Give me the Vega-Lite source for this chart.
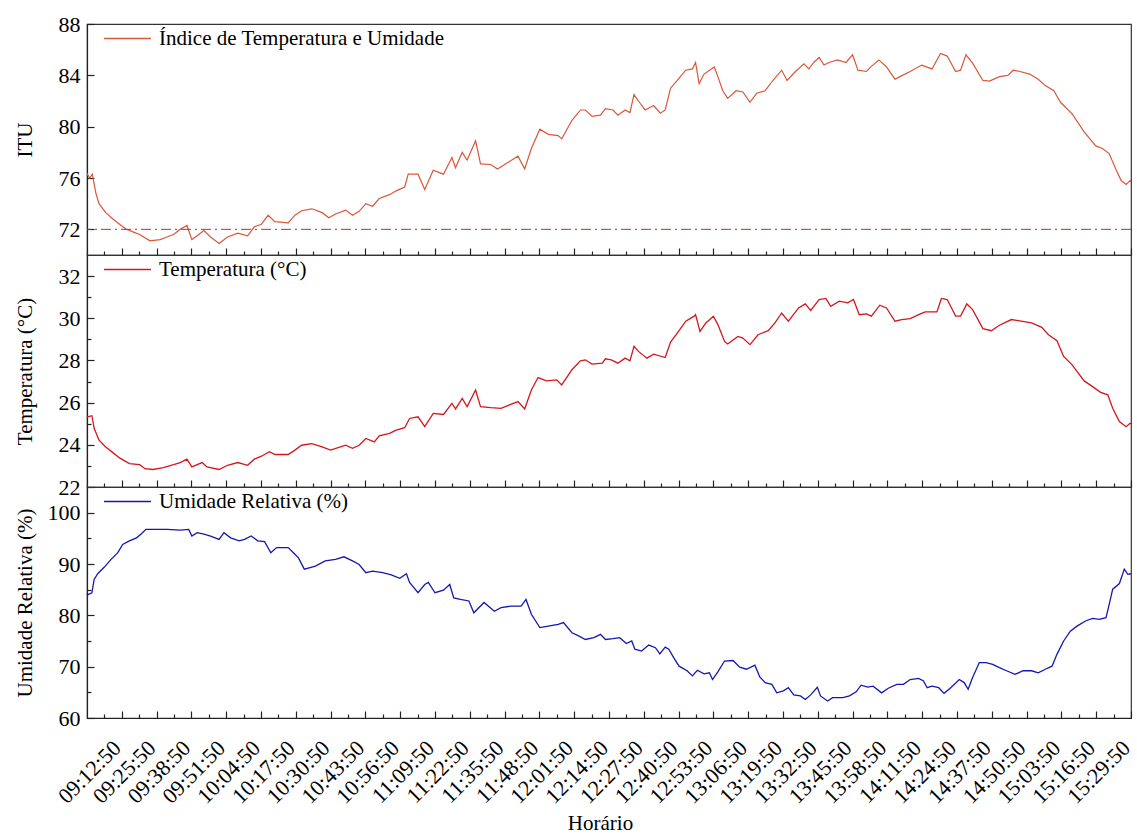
{
  "$schema": "https://vega.github.io/schema/vega-lite/v6.json",
  "autosize": "none",
  "padding": {"left": 87, "top": 24, "right": 1050, "bottom": 812},
  "background": "white",
  "params": [
    {"name": "xticks", "expr": "[datetime(1900,0,1,9,6,20),datetime(1900,0,1,9,12,50),datetime(1900,0,1,9,19,20),datetime(1900,0,1,9,25,50),datetime(1900,0,1,9,32,20),datetime(1900,0,1,9,38,50),datetime(1900,0,1,9,45,20),datetime(1900,0,1,9,51,50),datetime(1900,0,1,9,58,20),datetime(1900,0,1,10,4,50),datetime(1900,0,1,10,11,20),datetime(1900,0,1,10,17,50),datetime(1900,0,1,10,24,20),datetime(1900,0,1,10,30,50),datetime(1900,0,1,10,37,20),datetime(1900,0,1,10,43,50),datetime(1900,0,1,10,50,20),datetime(1900,0,1,10,56,50),datetime(1900,0,1,11,3,20),datetime(1900,0,1,11,9,50),datetime(1900,0,1,11,16,20),datetime(1900,0,1,11,22,50),datetime(1900,0,1,11,29,20),datetime(1900,0,1,11,35,50),datetime(1900,0,1,11,42,20),datetime(1900,0,1,11,48,50),datetime(1900,0,1,11,55,20),datetime(1900,0,1,12,1,50),datetime(1900,0,1,12,8,20),datetime(1900,0,1,12,14,50),datetime(1900,0,1,12,21,20),datetime(1900,0,1,12,27,50),datetime(1900,0,1,12,34,20),datetime(1900,0,1,12,40,50),datetime(1900,0,1,12,47,20),datetime(1900,0,1,12,53,50),datetime(1900,0,1,13,0,20),datetime(1900,0,1,13,6,50),datetime(1900,0,1,13,13,20),datetime(1900,0,1,13,19,50),datetime(1900,0,1,13,26,20),datetime(1900,0,1,13,32,50),datetime(1900,0,1,13,39,20),datetime(1900,0,1,13,45,50),datetime(1900,0,1,13,52,20),datetime(1900,0,1,13,58,50),datetime(1900,0,1,14,5,20),datetime(1900,0,1,14,11,50),datetime(1900,0,1,14,18,20),datetime(1900,0,1,14,24,50),datetime(1900,0,1,14,31,20),datetime(1900,0,1,14,37,50),datetime(1900,0,1,14,44,20),datetime(1900,0,1,14,50,50),datetime(1900,0,1,14,57,20),datetime(1900,0,1,15,3,50),datetime(1900,0,1,15,10,20),datetime(1900,0,1,15,16,50),datetime(1900,0,1,15,23,20),datetime(1900,0,1,15,29,50)]"}
  ],
  "datasets": {
    "itu": [
      {"t":"08:59:50","itu":76.2},{"t":"09:00:00","itu":76.3},{"t":"09:00:50","itu":76.0},{"t":"09:01:50","itu":76.3},{"t":"09:03:10","itu":74.8},{"t":"09:04:20","itu":74.0},{"t":"09:06:50","itu":73.3},{"t":"09:09:30","itu":72.8},{"t":"09:12:00","itu":72.4},{"t":"09:14:30","itu":72.0},{"t":"09:17:00","itu":71.8},{"t":"09:19:30","itu":71.6},{"t":"09:23:20","itu":71.1},{"t":"09:27:10","itu":71.2},{"t":"09:29:40","itu":71.4},{"t":"09:32:10","itu":71.6},{"t":"09:34:40","itu":72.0},{"t":"09:37:10","itu":72.3},{"t":"09:39:00","itu":71.2},{"t":"09:41:00","itu":71.5},{"t":"09:43:30","itu":71.9},{"t":"09:46:00","itu":71.4},{"t":"09:49:10","itu":70.9},{"t":"09:52:20","itu":71.4},{"t":"09:56:10","itu":71.7},{"t":"09:59:50","itu":71.5},{"t":"10:02:20","itu":72.2},{"t":"10:05:00","itu":72.4},{"t":"10:07:30","itu":73.1},{"t":"10:10:00","itu":72.6},{"t":"10:15:00","itu":72.5},{"t":"10:17:30","itu":73.1},{"t":"10:20:00","itu":73.45},{"t":"10:23:50","itu":73.6},{"t":"10:27:40","itu":73.3},{"t":"10:30:10","itu":72.9},{"t":"10:32:40","itu":73.2},{"t":"10:36:30","itu":73.5},{"t":"10:39:00","itu":73.1},{"t":"10:41:30","itu":73.4},{"t":"10:44:00","itu":74.0},{"t":"10:46:30","itu":73.8},{"t":"10:49:00","itu":74.4},{"t":"10:52:50","itu":74.7},{"t":"10:55:20","itu":75.0},{"t":"10:58:30","itu":75.3},{"t":"10:59:50","itu":76.3},{"t":"11:03:30","itu":76.3},{"t":"11:06:00","itu":75.1},{"t":"11:09:10","itu":76.6},{"t":"11:13:00","itu":76.3},{"t":"11:16:10","itu":77.6},{"t":"11:17:30","itu":76.8},{"t":"11:20:00","itu":78.0},{"t":"11:21:50","itu":77.4},{"t":"11:25:00","itu":78.9},{"t":"11:26:50","itu":77.1},{"t":"11:30:40","itu":77.05},{"t":"11:33:10","itu":76.7},{"t":"11:37:00","itu":77.2},{"t":"11:40:50","itu":77.7},{"t":"11:43:20","itu":76.7},{"t":"11:45:50","itu":78.3},{"t":"11:49:00","itu":79.8},{"t":"11:52:10","itu":79.4},{"t":"11:55:50","itu":79.3},{"t":"11:57:10","itu":79.05},{"t":"12:01:00","itu":80.5},{"t":"12:04:10","itu":81.3},{"t":"12:06:00","itu":81.3},{"t":"12:08:30","itu":80.8},{"t":"12:11:40","itu":80.9},{"t":"12:13:30","itu":81.4},{"t":"12:16:20","itu":81.3},{"t":"12:18:10","itu":80.9},{"t":"12:20:50","itu":81.3},{"t":"12:22:40","itu":81.1},{"t":"12:24:10","itu":82.5},{"t":"12:25:50","itu":82.0},{"t":"12:28:20","itu":81.3},{"t":"12:31:30","itu":81.65},{"t":"12:34:00","itu":81.05},{"t":"12:35:50","itu":81.3},{"t":"12:37:50","itu":83.0},{"t":"12:40:20","itu":83.6},{"t":"12:43:30","itu":84.4},{"t":"12:46:00","itu":84.5},{"t":"12:47:10","itu":85.0},{"t":"12:48:30","itu":83.35},{"t":"12:50:20","itu":84.1},{"t":"12:54:10","itu":84.65},{"t":"12:55:30","itu":83.9},{"t":"12:57:20","itu":82.8},{"t":"12:59:10","itu":82.2},{"t":"13:02:20","itu":82.8},{"t":"13:04:50","itu":82.7},{"t":"13:07:30","itu":81.9},{"t":"13:10:00","itu":82.6},{"t":"13:13:10","itu":82.8},{"t":"13:15:40","itu":83.5},{"t":"13:19:20","itu":84.4},{"t":"13:21:20","itu":83.6},{"t":"13:24:30","itu":84.3},{"t":"13:27:40","itu":84.9},{"t":"13:29:30","itu":84.5},{"t":"13:31:20","itu":85.0},{"t":"13:33:20","itu":85.4},{"t":"13:35:10","itu":84.8},{"t":"13:37:00","itu":85.0},{"t":"13:40:10","itu":85.2},{"t":"13:43:20","itu":85.0},{"t":"13:45:50","itu":85.6},{"t":"13:47:50","itu":84.4},{"t":"13:51:00","itu":84.3},{"t":"13:52:50","itu":84.7},{"t":"13:55:40","itu":85.2},{"t":"13:58:30","itu":84.65},{"t":"14:01:40","itu":83.7},{"t":"14:03:30","itu":83.9},{"t":"14:07:20","itu":84.3},{"t":"14:11:40","itu":84.8},{"t":"14:15:30","itu":84.5},{"t":"14:18:40","itu":85.7},{"t":"14:21:10","itu":85.5},{"t":"14:24:20","itu":84.3},{"t":"14:26:10","itu":84.4},{"t":"14:28:10","itu":85.6},{"t":"14:30:40","itu":84.95},{"t":"14:34:30","itu":83.6},{"t":"14:37:00","itu":83.55},{"t":"14:40:40","itu":83.9},{"t":"14:43:50","itu":84.0},{"t":"14:45:50","itu":84.4},{"t":"14:48:20","itu":84.3},{"t":"14:52:00","itu":84.1},{"t":"14:55:10","itu":83.7},{"t":"14:57:50","itu":83.2},{"t":"15:01:00","itu":82.8},{"t":"15:03:30","itu":81.9},{"t":"15:07:50","itu":81.0},{"t":"15:12:20","itu":79.6},{"t":"15:16:40","itu":78.5},{"t":"15:19:10","itu":78.3},{"t":"15:21:40","itu":77.9},{"t":"15:24:20","itu":76.6},{"t":"15:26:10","itu":75.8},{"t":"15:28:00","itu":75.5},{"t":"15:29:30","itu":75.8},{"t":"15:29:50","itu":75.7}
    ],
    "temp": [
      {"t":"08:59:50","temp":25.3},{"t":"09:00:00","temp":25.33},{"t":"09:01:40","temp":25.38},{"t":"09:02:30","temp":24.78},{"t":"09:04:20","temp":24.22},{"t":"09:06:50","temp":23.9},{"t":"09:09:30","temp":23.63},{"t":"09:12:00","temp":23.38},{"t":"09:15:40","temp":23.11},{"t":"09:19:30","temp":23.06},{"t":"09:21:30","temp":22.87},{"t":"09:24:30","temp":22.83},{"t":"09:28:20","temp":22.92},{"t":"09:32:10","temp":23.06},{"t":"09:34:40","temp":23.16},{"t":"09:37:10","temp":23.32},{"t":"09:39:00","temp":22.95},{"t":"09:42:50","temp":23.16},{"t":"09:44:40","temp":22.95},{"t":"09:49:10","temp":22.83},{"t":"09:52:20","temp":23.03},{"t":"09:56:10","temp":23.16},{"t":"09:59:50","temp":23.03},{"t":"10:02:20","temp":23.32},{"t":"10:05:00","temp":23.46},{"t":"10:08:00","temp":23.67},{"t":"10:10:00","temp":23.54},{"t":"10:15:00","temp":23.54},{"t":"10:17:30","temp":23.75},{"t":"10:20:00","temp":23.98},{"t":"10:23:50","temp":24.06},{"t":"10:27:40","temp":23.9},{"t":"10:30:50","temp":23.75},{"t":"10:33:20","temp":23.86},{"t":"10:36:30","temp":23.98},{"t":"10:39:00","temp":23.83},{"t":"10:41:30","temp":23.98},{"t":"10:44:00","temp":24.3},{"t":"10:47:10","temp":24.14},{"t":"10:49:00","temp":24.43},{"t":"10:52:50","temp":24.54},{"t":"10:55:20","temp":24.7},{"t":"10:58:30","temp":24.81},{"t":"11:00:20","temp":25.25},{"t":"11:03:30","temp":25.33},{"t":"11:06:00","temp":24.86},{"t":"11:09:10","temp":25.49},{"t":"11:13:00","temp":25.44},{"t":"11:16:10","temp":25.97},{"t":"11:17:30","temp":25.7},{"t":"11:20:00","temp":26.2},{"t":"11:21:50","temp":25.81},{"t":"11:25:00","temp":26.6},{"t":"11:26:50","temp":25.81},{"t":"11:30:40","temp":25.76},{"t":"11:34:30","temp":25.73},{"t":"11:37:40","temp":25.89},{"t":"11:40:50","temp":26.05},{"t":"11:43:20","temp":25.7},{"t":"11:45:50","temp":26.6},{"t":"11:48:20","temp":27.19},{"t":"11:51:30","temp":27.03},{"t":"11:55:20","temp":27.08},{"t":"11:57:10","temp":26.84},{"t":"12:01:00","temp":27.56},{"t":"12:04:10","temp":27.98},{"t":"12:06:00","temp":28.03},{"t":"12:08:30","temp":27.83},{"t":"12:12:20","temp":27.87},{"t":"12:13:30","temp":28.08},{"t":"12:15:40","temp":28.03},{"t":"12:18:10","temp":27.87},{"t":"12:20:50","temp":28.11},{"t":"12:22:40","temp":27.98},{"t":"12:24:10","temp":28.67},{"t":"12:25:50","temp":28.43},{"t":"12:29:00","temp":28.11},{"t":"12:31:30","temp":28.3},{"t":"12:35:50","temp":28.14},{"t":"12:37:50","temp":28.87},{"t":"12:40:20","temp":29.3},{"t":"12:43:30","temp":29.86},{"t":"12:46:40","temp":30.1},{"t":"12:47:10","temp":30.17},{"t":"12:48:50","temp":29.38},{"t":"12:51:00","temp":29.78},{"t":"12:53:50","temp":30.1},{"t":"12:55:30","temp":29.7},{"t":"12:58:00","temp":28.9},{"t":"12:59:10","temp":28.78},{"t":"13:03:00","temp":29.14},{"t":"13:04:50","temp":29.06},{"t":"13:07:30","temp":28.75},{"t":"13:10:30","temp":29.22},{"t":"13:14:20","temp":29.41},{"t":"13:16:50","temp":29.78},{"t":"13:19:20","temp":30.25},{"t":"13:21:50","temp":29.86},{"t":"13:25:40","temp":30.49},{"t":"13:28:10","temp":30.68},{"t":"13:30:10","temp":30.37},{"t":"13:33:20","temp":30.89},{"t":"13:35:50","temp":30.94},{"t":"13:37:40","temp":30.57},{"t":"13:40:50","temp":30.81},{"t":"13:44:00","temp":30.73},{"t":"13:46:10","temp":30.89},{"t":"13:48:20","temp":30.17},{"t":"13:51:00","temp":30.21},{"t":"13:52:50","temp":30.1},{"t":"13:56:00","temp":30.62},{"t":"13:58:30","temp":30.49},{"t":"14:01:40","temp":29.86},{"t":"14:04:10","temp":29.94},{"t":"14:07:20","temp":29.98},{"t":"14:11:10","temp":30.21},{"t":"14:13:00","temp":30.3},{"t":"14:17:20","temp":30.3},{"t":"14:19:00","temp":30.94},{"t":"14:21:10","temp":30.89},{"t":"14:24:20","temp":30.1},{"t":"14:26:10","temp":30.1},{"t":"14:28:30","temp":30.68},{"t":"14:30:40","temp":30.41},{"t":"14:34:30","temp":29.51},{"t":"14:37:40","temp":29.41},{"t":"14:40:40","temp":29.67},{"t":"14:45:10","temp":29.94},{"t":"14:47:40","temp":29.89},{"t":"14:52:40","temp":29.78},{"t":"14:56:30","temp":29.57},{"t":"14:59:00","temp":29.22},{"t":"15:02:10","temp":28.94},{"t":"15:04:40","temp":28.19},{"t":"15:07:50","temp":27.79},{"t":"15:12:20","temp":27.03},{"t":"15:15:30","temp":26.76},{"t":"15:18:30","temp":26.49},{"t":"15:21:10","temp":26.37},{"t":"15:23:00","temp":25.73},{"t":"15:25:30","temp":25.1},{"t":"15:28:00","temp":24.86},{"t":"15:29:30","temp":25.02},{"t":"15:29:50","temp":25.0}
    ],
    "ur": [
      {"t":"08:59:50","ur":84.2},{"t":"09:00:00","ur":84.0},{"t":"09:01:40","ur":84.4},{"t":"09:02:30","ur":87.0},{"t":"09:03:50","ur":88.1},{"t":"09:06:20","ur":89.4},{"t":"09:08:50","ur":90.9},{"t":"09:11:20","ur":92.2},{"t":"09:13:10","ur":93.8},{"t":"09:15:40","ur":94.5},{"t":"09:18:20","ur":95.1},{"t":"09:20:10","ur":95.9},{"t":"09:21:50","ur":96.75},{"t":"09:24:30","ur":96.75},{"t":"09:29:40","ur":96.75},{"t":"09:34:40","ur":96.6},{"t":"09:37:50","ur":96.75},{"t":"09:39:00","ur":95.45},{"t":"09:41:00","ur":96.1},{"t":"09:43:30","ur":95.8},{"t":"09:46:00","ur":95.45},{"t":"09:49:10","ur":94.8},{"t":"09:51:00","ur":96.1},{"t":"09:53:30","ur":95.1},{"t":"09:56:40","ur":94.5},{"t":"09:58:40","ur":94.8},{"t":"10:01:10","ur":95.45},{"t":"10:03:40","ur":94.5},{"t":"10:06:10","ur":94.35},{"t":"10:08:30","ur":92.2},{"t":"10:10:40","ur":93.2},{"t":"10:15:00","ur":93.2},{"t":"10:17:30","ur":91.9},{"t":"10:18:50","ur":91.2},{"t":"10:21:00","ur":89.0},{"t":"10:23:10","ur":89.3},{"t":"10:25:10","ur":89.6},{"t":"10:28:50","ur":90.6},{"t":"10:32:40","ur":90.9},{"t":"10:35:50","ur":91.4},{"t":"10:39:00","ur":90.6},{"t":"10:41:30","ur":89.9},{"t":"10:44:00","ur":88.3},{"t":"10:46:30","ur":88.6},{"t":"10:50:20","ur":88.3},{"t":"10:53:30","ur":87.9},{"t":"10:56:40","ur":87.2},{"t":"10:59:10","ur":88.1},{"t":"11:00:20","ur":86.4},{"t":"11:03:30","ur":84.4},{"t":"11:06:00","ur":86.0},{"t":"11:07:20","ur":86.4},{"t":"11:09:50","ur":84.4},{"t":"11:13:00","ur":84.9},{"t":"11:15:20","ur":86.0},{"t":"11:16:50","ur":83.4},{"t":"11:19:20","ur":83.1},{"t":"11:22:30","ur":82.8},{"t":"11:24:20","ur":80.5},{"t":"11:28:10","ur":82.5},{"t":"11:32:00","ur":80.8},{"t":"11:34:30","ur":81.5},{"t":"11:38:10","ur":81.8},{"t":"11:42:00","ur":81.8},{"t":"11:43:50","ur":83.1},{"t":"11:45:50","ur":80.2},{"t":"11:49:00","ur":77.6},{"t":"11:52:10","ur":77.9},{"t":"11:55:50","ur":78.25},{"t":"11:57:50","ur":78.6},{"t":"12:01:00","ur":76.6},{"t":"12:03:30","ur":76.0},{"t":"12:06:00","ur":75.3},{"t":"12:09:10","ur":75.65},{"t":"12:11:40","ur":76.3},{"t":"12:13:30","ur":75.3},{"t":"12:16:20","ur":75.45},{"t":"12:18:50","ur":75.65},{"t":"12:21:20","ur":74.5},{"t":"12:23:20","ur":75.0},{"t":"12:24:30","ur":73.4},{"t":"12:27:00","ur":73.05},{"t":"12:29:40","ur":74.2},{"t":"12:32:10","ur":73.7},{"t":"12:33:50","ur":72.5},{"t":"12:35:50","ur":73.8},{"t":"12:37:10","ur":73.4},{"t":"12:39:00","ur":71.75},{"t":"12:41:00","ur":70.1},{"t":"12:44:00","ur":69.2},{"t":"12:46:00","ur":68.2},{"t":"12:47:50","ur":69.3},{"t":"12:50:20","ur":68.6},{"t":"12:52:20","ur":68.8},{"t":"12:53:30","ur":67.5},{"t":"12:55:30","ur":69.0},{"t":"12:58:00","ur":71.1},{"t":"13:01:10","ur":71.2},{"t":"13:03:40","ur":69.9},{"t":"13:06:10","ur":69.5},{"t":"13:09:20","ur":70.3},{"t":"13:11:10","ur":68.0},{"t":"13:13:10","ur":66.9},{"t":"13:15:40","ur":66.55},{"t":"13:17:30","ur":64.9},{"t":"13:20:00","ur":65.3},{"t":"13:21:50","ur":65.9},{"t":"13:23:50","ur":64.5},{"t":"13:26:20","ur":64.3},{"t":"13:28:10","ur":63.6},{"t":"13:30:10","ur":64.5},{"t":"13:32:40","ur":66.0},{"t":"13:33:50","ur":64.3},{"t":"13:36:30","ur":63.3},{"t":"13:38:20","ur":63.96},{"t":"13:42:10","ur":63.96},{"t":"13:44:40","ur":64.3},{"t":"13:47:10","ur":65.1},{"t":"13:49:00","ur":66.4},{"t":"13:51:30","ur":66.0},{"t":"13:53:30","ur":66.2},{"t":"13:56:40","ur":64.9},{"t":"13:59:10","ur":65.8},{"t":"14:02:20","ur":66.55},{"t":"14:04:50","ur":66.55},{"t":"14:07:20","ur":67.5},{"t":"14:10:30","ur":67.7},{"t":"14:12:20","ur":67.2},{"t":"14:13:40","ur":65.9},{"t":"14:15:30","ur":66.2},{"t":"14:18:00","ur":65.9},{"t":"14:20:00","ur":64.8},{"t":"14:22:30","ur":65.9},{"t":"14:25:40","ur":67.5},{"t":"14:27:30","ur":66.9},{"t":"14:29:00","ur":65.6},{"t":"14:30:40","ur":67.9},{"t":"14:33:10","ur":70.8},{"t":"14:35:40","ur":70.8},{"t":"14:38:10","ur":70.45},{"t":"14:40:40","ur":69.8},{"t":"14:43:20","ur":69.2},{"t":"14:46:30","ur":68.5},{"t":"14:49:30","ur":69.2},{"t":"14:52:40","ur":69.2},{"t":"14:55:10","ur":68.8},{"t":"14:57:50","ur":69.5},{"t":"15:00:20","ur":70.1},{"t":"15:02:10","ur":72.4},{"t":"15:04:40","ur":75.0},{"t":"15:07:10","ur":76.9},{"t":"15:09:40","ur":77.9},{"t":"15:12:50","ur":78.9},{"t":"15:15:30","ur":79.4},{"t":"15:18:00","ur":79.2},{"t":"15:20:30","ur":79.55},{"t":"15:21:40","ur":82.1},{"t":"15:23:00","ur":85.1},{"t":"15:25:30","ur":86.2},{"t":"15:27:20","ur":89.0},{"t":"15:28:40","ur":88.0},{"t":"15:29:30","ur":88.1},{"t":"15:29:50","ur":88.0}
    ]
  },
  "vconcat": [
    {
      "width": 1044,
      "height": 231,
      "layer": [
        {
          "data": {"name": "itu", "format": {"parse": {"t": "date:'%H:%M:%S'"}}},
          "mark": {"type": "line", "strokeWidth": 1.2},
          "encoding": {
            "x": {"field": "t", "type": "temporal",
              "scale": {"domain": [{"year":1900,"month":1,"date":1,"hours":8,"minutes":59,"seconds":50},{"year":1900,"month":1,"date":1,"hours":15,"minutes":29,"seconds":50}], "nice": false},
              "axis": {"values": {"expr": "xticks"}, "labels": false, "title": null,
                "tickSize": {"condition": {"test": "seconds(datum.value) == 20", "value": -4}, "value": -7}}},
            "y": {"field": "itu", "type": "quantitative",
              "scale": {"domain": [70, 88], "nice": false, "zero": false},
              "axis": {"title": "ITU", "values": [72,74,76,78,80,82,84,86,88],
                "labelExpr": "datum.value % 4 == 0 ? datum.label : ''",
                "tickSize": {"condition": {"test": "datum.value % 4 != 0", "value": -4}, "value": -7},
                "labelPadding": 14, "titleX": -56, "titleY": 115.5, "titleBaseline": "alphabetic", "titleAlign": "center", "titleAngle": -90}},
            "color": {"datum": "Índice de Temperatura e Umidade", "type": "nominal",
              "scale": {"range": ["#d9573a"]},
              "legend": {"title": null, "orient": "none", "legendX": 16, "legendY": -10}}
          }
        },
        {
          "data": {"values": [{"limite": 72}]},
          "mark": {"type": "rule", "color": "#b8322f", "strokeWidth": 1, "strokeDash": [10, 4, 2, 4]},
          "encoding": {"y": {"field": "limite", "type": "quantitative"}}
        }
      ]
    },
    {
      "width": 1044,
      "height": 232,
      "data": {"name": "temp", "format": {"parse": {"t": "date:'%H:%M:%S'"}}},
      "mark": {"type": "line", "strokeWidth": 1.3},
      "encoding": {
        "x": {"field": "t", "type": "temporal",
          "scale": {"domain": [{"year":1900,"month":1,"date":1,"hours":8,"minutes":59,"seconds":50},{"year":1900,"month":1,"date":1,"hours":15,"minutes":29,"seconds":50}], "nice": false},
          "axis": {"values": {"expr": "xticks"}, "labels": false, "title": null,
            "tickSize": {"condition": {"test": "seconds(datum.value) == 20", "value": -4}, "value": -7}}},
        "y": {"field": "temp", "type": "quantitative",
          "scale": {"domain": [22, 33], "nice": false, "zero": false},
          "axis": {"title": "Temperatura (°C)", "values": [22,23,24,25,26,27,28,29,30,31,32],
            "labelExpr": "datum.value % 2 == 0 ? datum.label : ''",
            "tickSize": {"condition": {"test": "datum.value % 2 != 0", "value": -4}, "value": -7},
            "labelPadding": 14, "titleX": -56, "titleY": 116, "titleBaseline": "alphabetic", "titleAlign": "center", "titleAngle": -90}},
        "color": {"datum": "Temperatura (°C)", "type": "nominal",
          "scale": {"range": ["#d4161d"]},
          "legend": {"title": null, "orient": "none", "legendX": 16, "legendY": -10}}
      }
    },
    {
      "width": 1044,
      "height": 231,
      "data": {"name": "ur", "format": {"parse": {"t": "date:'%H:%M:%S'"}}},
      "mark": {"type": "line", "strokeWidth": 1.3},
      "encoding": {
        "x": {"field": "t", "type": "temporal",
          "scale": {"domain": [{"year":1900,"month":1,"date":1,"hours":8,"minutes":59,"seconds":50},{"year":1900,"month":1,"date":1,"hours":15,"minutes":29,"seconds":50}], "nice": false},
          "axis": {"values": {"expr": "xticks"}, "format": "%H:%M:%S",
            "labelExpr": "seconds(datum.value) == 50 ? datum.label : ''",
            "labelAngle": -45, "labelAlign": "right", "labelBaseline": "middle", "labelPadding": 33, "labelOffset": -5,
            "tickSize": {"condition": {"test": "seconds(datum.value) == 20", "value": -4}, "value": -7},
            "title": "Horário", "titleX": 513, "titleY": 111, "titleBaseline": "alphabetic", "titleAlign": "center"}},
        "y": {"field": "ur", "type": "quantitative",
          "scale": {"domain": [60, 105], "nice": false, "zero": false},
          "axis": {"title": "Umidade Relativa (%)", "values": [60,65,70,75,80,85,90,95,100],
            "labelExpr": "datum.value % 10 == 0 ? datum.label : ''",
            "tickSize": {"condition": {"test": "datum.value % 10 != 0", "value": -4}, "value": -7},
            "labelPadding": 14, "titleX": -56, "titleY": 115.5, "titleBaseline": "alphabetic", "titleAlign": "center", "titleAngle": -90}},
        "color": {"datum": "Umidade Relativa (%)", "type": "nominal",
          "scale": {"range": ["#1717b0"]},
          "legend": {"title": null, "orient": "none", "legendX": 16, "legendY": -10}}
      }
    }
  ],
  "spacing": 0,
  "bounds": "flush",
  "resolve": {"scale": {"color": "independent"}, "legend": {"color": "independent"}},
  "config": {
    "font": "Liberation Serif",
    "view": {"stroke": "#333333", "strokeWidth": 1.2},
    "axis": {
      "grid": false,
      "labelFont": "Liberation Serif", "labelFontSize": 22, "labelColor": "black",
      "titleFont": "Liberation Serif", "titleFontSize": 21, "titleFontWeight": "normal", "titleColor": "black",
      "domainColor": "#222222", "domainWidth": 1.2, "tickColor": "#222222", "tickWidth": 1.2,
      "labelOverlap": false, "labelFlush": false
    },
    "legend": {
      "labelFont": "Liberation Serif", "labelFontSize": 21, "labelColor": "black", "labelLimit": 0,
      "symbolType": "stroke", "symbolSize": 2200, "symbolStrokeWidth": 1.3, "labelOffset": 7, "padding": 0
    }
  }
}
